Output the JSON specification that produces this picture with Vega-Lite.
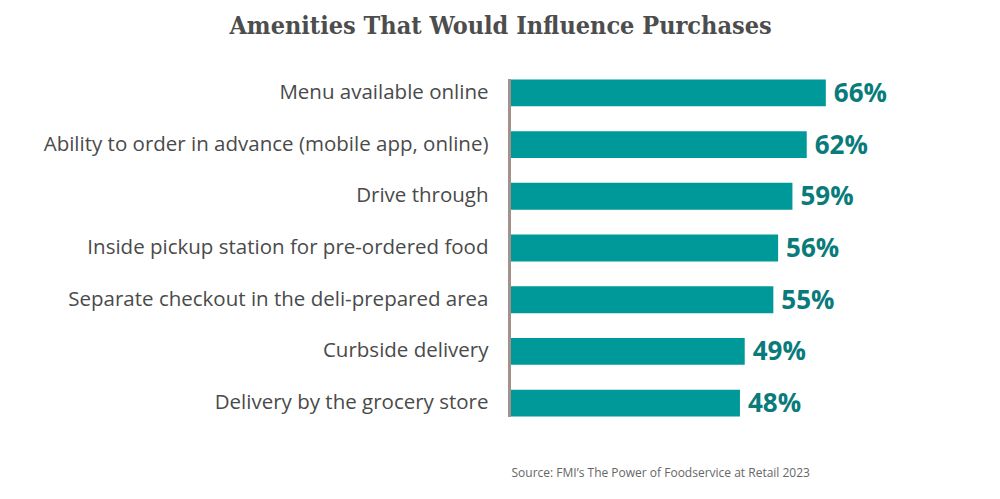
{
  "$schema": "https://vega.github.io/schema/vega-lite/v6.json",
  "autosize": {"type": "none"},
  "padding": {"left": 511, "top": 67, "right": 0, "bottom": 70},
  "width": 477,
  "height": 362,
  "background": "white",
  "title": {
    "text": "Amenities That Would Influence Purchases",
    "font": "DejaVu Serif Condensed",
    "fontSize": 25,
    "fontWeight": "bold",
    "color": "#4d4d4d",
    "anchor": "middle",
    "dx": -249,
    "offset": 28
  },
  "data": {
    "values": [
      {"amenity": "Menu available online", "pct": 66, "label": "66%"},
      {"amenity": "Ability to order in advance (mobile app, online)", "pct": 62, "label": "62%"},
      {"amenity": "Drive through", "pct": 59, "label": "59%"},
      {"amenity": "Inside pickup station for pre-ordered food", "pct": 56, "label": "56%"},
      {"amenity": "Separate checkout in the deli-prepared area", "pct": 55, "label": "55%"},
      {"amenity": "Curbside delivery", "pct": 49, "label": "49%"},
      {"amenity": "Delivery by the grocery store", "pct": 48, "label": "48%"}
    ]
  },
  "encoding": {
    "y": {
      "field": "amenity",
      "type": "nominal",
      "sort": null,
      "scale": {"paddingInner": 0.48, "paddingOuter": 0.24},
      "axis": {
        "title": null,
        "ticks": false,
        "domain": false,
        "labelFont": "Open Sans",
        "labelFontSize": 20.5,
        "labelColor": "#4a4a4a",
        "labelPadding": 23,
        "labelLimit": 600
      }
    },
    "x": {
      "field": "pct",
      "type": "quantitative",
      "scale": {"domain": [0, 100]},
      "axis": {
        "title": "Source: FMI’s The Power of Foodservice at Retail 2023",
        "titleAnchor": "start",
        "titleAlign": "left",
        "titleFont": "Open Sans",
        "titleFontSize": 12,
        "titleFontWeight": "normal",
        "titleColor": "#666666",
        "titlePadding": 38,
        "labels": false,
        "ticks": false,
        "domain": false,
        "grid": false
      }
    }
  },
  "layer": [
    {"mark": {"type": "bar", "color": "#009999"}},
    {
      "mark": {"type": "rule", "color": "#a3928c", "strokeWidth": 3, "xOffset": -1.5},
      "encoding": {
        "x": {"datum": 0, "type": "quantitative"},
        "y": {"datum": "Menu available online", "type": "nominal", "bandPosition": 0},
        "y2": {"datum": "Delivery by the grocery store", "bandPosition": 1}
      }
    },
    {
      "mark": {"type": "text", "align": "left", "baseline": "middle", "dx": 8, "dy": 1, "font": "Open Sans", "fontSize": 26, "fontWeight": "bold", "color": "#0a7b7b"},
      "encoding": {"text": {"field": "label", "type": "nominal"}}
    }
  ],
  "config": {"view": {"stroke": null}}
}
